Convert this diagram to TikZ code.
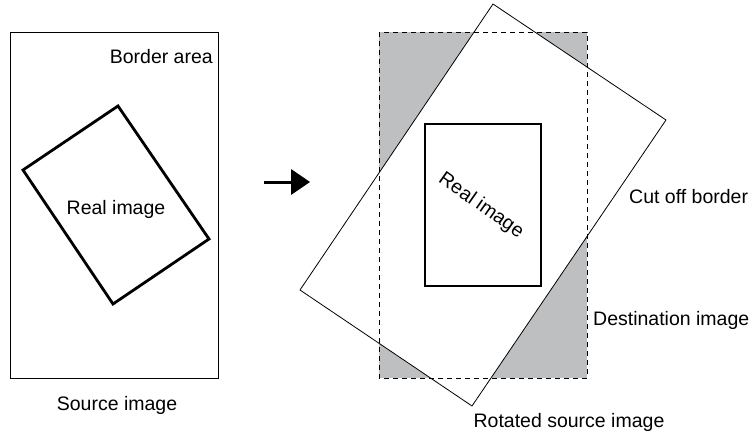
\documentclass[tikz,border=0pt]{standalone}
\usepackage{fontspec}
\setmainfont{Liberation Sans}
\definecolor{bordergray}{HTML}{BEBFC1}
\begin{document}
\begin{tikzpicture}[x=1pt,y=-1pt,
  lbl/.style={font=\fontsize{19.5}{23}\selectfont, inner sep=0pt},
  thinline/.style={draw=black, line width=0.8pt},
  thickline/.style={draw=black, line width=2.8pt, line join=miter},
  dashline/.style={draw=black, line width=0.8pt, dash pattern=on 5pt off 4pt}]
\useasboundingbox (0,0) rectangle (753,436);
% source image
\draw[thinline] (10,32) rectangle (218,378);
\coordinate (s1) at (23,170);
\coordinate (s2) at (118,106);
\coordinate (s3) at (209,239);
\coordinate (s4) at (113,304);
\draw[thickline] (s1) -- (s2) -- (s3) -- (s4) -- cycle;
\node[lbl, anchor=east] (border) at (213,57) {Border area};
\node[lbl] (real1) at (116,209) {Real image};
\node[lbl] (src) at (117,405) {Source image};
% arrow
\coordinate (a0) at (264,182);
\coordinate (a1) at (291,182);
\draw[line width=3pt] (a0) -- (a1);
\fill (291,169) -- (310,182) -- (291,195) -- cycle;
% destination image
\fill[bordergray] (379,32) rectangle (587,378);
\coordinate (r1) at (493,4);
\coordinate (r2) at (666,120);
\coordinate (r3) at (472,406);
\coordinate (r4) at (300,290);
\fill[white] (r1) -- (r2) -- (r3) -- (r4) -- cycle;
\draw[dashline] (379,32) rectangle (587,378);
\draw[thinline, line join=miter] (r1) -- (r2) -- (r3) -- (r4) -- cycle;
\draw[thickline] (425,124) rectangle (541,286);
\node[lbl, rotate=-35] (real2) at (481,206) {Real image};
\node[lbl, anchor=west] (cut) at (629,197) {Cut off border};
\node[lbl, anchor=west] (dst) at (593,320) {Destination image};
\node[lbl] (rot) at (569,422) {Rotated source image};
\end{tikzpicture}
\end{document}
